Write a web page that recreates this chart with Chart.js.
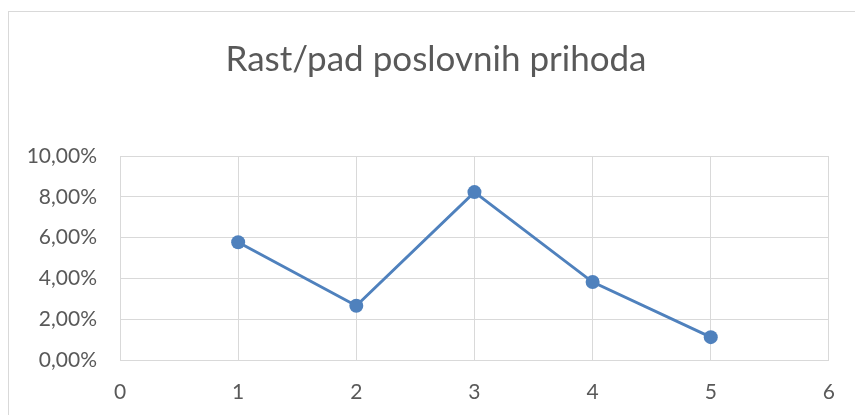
<!DOCTYPE html>
<html>
<head>
<meta charset="utf-8">
<script src="https://cdn.jsdelivr.net/npm/chart.js@4.4.0/dist/chart.umd.min.js"></script>
<style>
  html, body { margin: 0; padding: 0; background: #fff; }
  #wrap { position: relative; width: 855px; height: 415px; overflow: hidden; }
  #frame { position: absolute; left: 8px; top: 11px; width: 900px; height: 500px;
           border-left: 1px solid #d9d9d9; border-top: 1px solid #d9d9d9; }
  canvas { position: absolute; left: 0; top: 0; }
</style>
</head>
<body>
<div id="wrap">
  <div id="frame"></div>
  <canvas id="chart" width="855" height="415"></canvas>
</div>
<script>
// Rast/pad poslovnih prihoda - line chart

const TITLE = 'Rast/pad poslovnih prihoda';
const xValues = [1, 2, 3, 4, 5];
const growthPct = [5.77, 2.66, 8.23, 3.82, 1.12];
const xTicks = [0, 1, 2, 3, 4, 5, 6];
const yTicks = [0, 2, 4, 6, 8, 10];

const GREY_TEXT = '#595959';
const GRID = '#d9d9d9';
const BLUE = '#4f81bd';
const FONT = 'Lato, "Open Sans", sans-serif';

const fmtPct = v => v.toFixed(2).replace('.', ',') + '%';

const points = xValues.map((x, i) => ({x, y: growthPct[i]}));

// title is centred over the frame, not over the whole canvas
const titleShift = {
  id: 'titleShift',
  afterLayout(chart) {
    if (chart.titleBlock) chart.titleBlock.left = 43;
  }
};

new Chart(document.getElementById('chart'), {
  type: 'line',
  data: {
    datasets: [{
      data: points,
      borderColor: BLUE,
      backgroundColor: BLUE,
      borderWidth: 3,
      pointRadius: 7,
      pointBorderWidth: 0,
      tension: 0
    }]
  },
  options: {
    responsive: false,
    animation: false,
    layout: {padding: {top: 0, right: 26, bottom: 0, left: 0}, autoPadding: false},
    plugins: {
      legend: {display: false},
      tooltip: {enabled: false},
      title: {
        display: true,
        text: TITLE,
        color: GREY_TEXT,
        font: {family: FONT, size: 35, weight: 'normal', lineHeight: 1.2},
        padding: {top: 39, bottom: 75}
      }
    },
    scales: {
      x: {
        type: 'linear',
        min: 0, max: 6,
        afterBuildTicks: s => { s.ticks = xTicks.map(v => ({value: v})); },
        afterFit: s => { s.height = 55; },
        grid: {color: GRID, drawTicks: false},
        border: {color: GRID},
        ticks: {color: GREY_TEXT, padding: 20, font: {family: FONT, size: 21}}
      },
      y: {
        min: 0, max: 10,
        afterBuildTicks: s => { s.ticks = yTicks.map(v => ({value: v})); },
        afterFit: s => { s.width = 120; },
        grid: {color: GRID, drawTicks: false},
        border: {color: GRID},
        ticks: {color: GREY_TEXT, padding: 23, font: {family: FONT, size: 21}, callback: v => fmtPct(v)}
      }
    }
  },
  plugins: [titleShift]
});
</script>
</body>
</html>
